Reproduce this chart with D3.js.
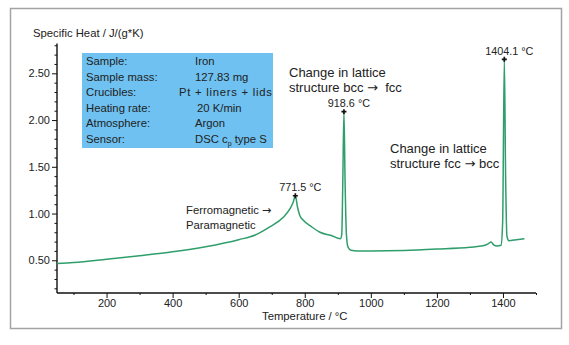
<!DOCTYPE html>
<html>
<head>
<meta charset="utf-8">
<script src="https://cdn.jsdelivr.net/npm/d3@7"></script>
<style>
  html, body { margin: 0; padding: 0; background: #fff; }
  svg { display: block; font-family: "Liberation Sans", Arial, sans-serif; }
</style>
</head>
<body>
<svg id="chart" width="569" height="345"></svg>
<script>
// ---- data ----
const temperature = [50, 100, 200, 300, 400, 500, 600, 650, 694, 735, 755, 765, 771.5, 778, 785, 795, 820, 846, 880, 908, 912, 915, 918.6, 922, 926, 931, 940, 960, 1000, 1100, 1200, 1300, 1340, 1355, 1364, 1372, 1382, 1394, 1399, 1404.1, 1408, 1412, 1418, 1440, 1465];
const specificHeat = [0.465, 0.475, 0.51, 0.548, 0.59, 0.645, 0.72, 0.77, 0.857, 0.96, 1.05, 1.12, 1.19, 1.07, 0.98, 0.93, 0.86, 0.80, 0.765, 0.73, 0.78, 1.3, 2.09, 1.35, 0.78, 0.64, 0.607, 0.60, 0.60, 0.605, 0.62, 0.64, 0.655, 0.675, 0.696, 0.665, 0.652, 0.66, 0.9, 2.65, 1.4, 0.76, 0.71, 0.72, 0.73];
const xTicks = [200, 400, 600, 800, 1000, 1200, 1400];
const xMinorTicks = [100, 300, 500, 700, 900, 1100, 1300, 1500];
const yTicks = [0.5, 1.0, 1.5, 2.0, 2.5];
const yMinorTicks = [0.2, 0.3, 0.4, 0.6, 0.7, 0.8, 0.9, 1.1, 1.2, 1.3, 1.4, 1.6, 1.7, 1.8, 1.9, 2.1, 2.2, 2.3, 2.4, 2.6, 2.7, 2.8];
const peakTemps = [771.5, 918.6, 1404.1];
const peakValues = [1.19, 2.09, 2.65];
const peakLabels = ["771.5 °C", "918.6 °C", "1404.1 °C"];
const infoLabels = ["Sample:", "Sample mass:", "Crucibles:", "Heating rate:", "Atmosphere:", "Sensor:"];
const infoValues = ["Iron", "127.83 mg", "Pt + liners + lids", "20 K/min", "Argon", "DSC c|p| type S"];
const yTitle = "Specific Heat / J/(g*K)";
const xTitle = "Temperature / °C";
const noteFerro = ["Ferromagnetic \u2192", "Paramagnetic"];
const noteBccFcc = ["Change in lattice", "structure bcc \u2192  fcc"];
const noteFccBcc = ["Change in lattice", "structure fcc \u2192 bcc"];

// ---- layout ----
const svg = d3.select("#chart");
const textColor = "#222";
const fs = 11.3;

svg.append("rect").attr("x", 10.5).attr("y", 8.5).attr("width", 551).attr("height", 320)
  .attr("fill", "#fff").attr("stroke", "#a3a3a3").attr("stroke-width", 1.5);

const x = d3.scaleLinear().domain([50, 1500]).range([57, 536]);
const y = d3.scaleLinear().domain([0.15, 2.82]).range([293, 43.4]);

// axes
const xAxisG = svg.append("g").attr("transform", "translate(0,293)");
xAxisG.call(d3.axisBottom(x).tickValues(xTicks).tickSize(5).tickPadding(1).tickFormat(d3.format("d")));
xAxisG.append("g").call(d3.axisBottom(x).tickValues(xMinorTicks).tickSize(2).tickFormat(""));
const yAxisG = svg.append("g").attr("transform", "translate(57,0)");
yAxisG.call(d3.axisLeft(y).tickValues(yTicks).tickSize(5).tickPadding(2).tickFormat(d3.format(".2f")));
yAxisG.append("g").call(d3.axisLeft(y).tickValues(yMinorTicks).tickSize(2.5).tickFormat(""));

svg.selectAll(".domain").attr("stroke", "#111").attr("stroke-width", 1.4);
svg.selectAll(".tick line").attr("stroke", "#111").attr("stroke-width", 1);
svg.selectAll(".tick text").attr("font-size", 11).attr("fill", textColor)
  .attr("font-family", "'Liberation Sans', Arial, sans-serif");
xAxisG.selectAll("g g .domain").remove();
yAxisG.selectAll("g g .domain").remove();
xAxisG.select(".domain").attr("d", `M${x(50)},0H${x(1500)}`);
yAxisG.select(".domain").attr("d", `M0,${y(0.15)}V${y(2.82)}`);

// titles
svg.append("text").attr("x", 33).attr("y", 37).attr("font-size", fs).attr("fill", textColor).text(yTitle);
svg.append("text").attr("x", 262).attr("y", 320).attr("font-size", fs).attr("fill", textColor).text(xTitle);

// info box
svg.append("rect").attr("x", 82).attr("y", 53).attr("width", 191).attr("height", 95).attr("fill", "#6ec1f0");
const valueX = [195, 195, 179, 197, 195, 195];
const valueLen = [null, null, 93, null, null, null];
infoLabels.forEach((lab, i) => {
  const by = 65 + i * 15.5;
  svg.append("text").attr("x", 86).attr("y", by).attr("font-size", fs).attr("fill", textColor).text(lab);
  const t = svg.append("text").attr("x", valueX[i]).attr("y", by).attr("font-size", fs).attr("fill", textColor);
  if (valueLen[i]) t.attr("textLength", valueLen[i]).attr("lengthAdjust", "spacing");
  const parts = infoValues[i].split("|");
  if (parts.length === 3) {
    t.append("tspan").text(parts[0]);
    t.append("tspan").attr("font-size", 7).attr("dy", 3).text(parts[1]);
    t.append("tspan").attr("dy", -3).text(parts[2]);
  } else {
    t.text(infoValues[i]);
  }
});

// curve
const pts = temperature.map((t, i) => [t, specificHeat[i]]);
const line = d3.line().x(d => x(d[0])).y(d => y(d[1])).curve(d3.curveMonotoneX);
svg.append("path").datum(pts).attr("d", line).attr("fill", "none")
  .attr("stroke", "#2f9e6c").attr("stroke-width", 1.5).attr("stroke-linejoin", "round");

// peak markers & labels
peakTemps.forEach((t, i) => {
  const px = x(t), py = y(peakValues[i]);
  svg.append("path").attr("d", d3.symbol(d3.symbolCross, 14)()).attr("transform", `translate(${px},${py})`).attr("fill", "#111");
  svg.append("text").attr("x", px + 5).attr("y", py - 4.5).attr("text-anchor", "middle")
    .attr("font-size", 10.8).attr("fill", textColor).text(peakLabels[i]);
});

// annotations (arrow glyph drawn in DejaVu Sans for a full-size arrow)
function note(lines, x0, y0, size) {
  lines.forEach((s, i) => {
    const t = svg.append("text").attr("x", x0).attr("y", y0 + i * 15).attr("font-size", size).attr("fill", textColor)
      .attr("xml:space", "preserve");
    const segs = s.split("\u2192");
    segs.forEach((seg, j) => {
      t.append("tspan").text(seg);
      if (j < segs.length - 1) {
        t.append("tspan").attr("font-family", "'DejaVu Sans', sans-serif").attr("font-size", size).text("\u2192");
      }
    });
  });
}
note(noteFerro, 186, 213.5, fs);
note(noteBccFcc, 289, 77, 13);
note(noteFccBcc, 390, 152.5, 13);
</script>
</body>
</html>
